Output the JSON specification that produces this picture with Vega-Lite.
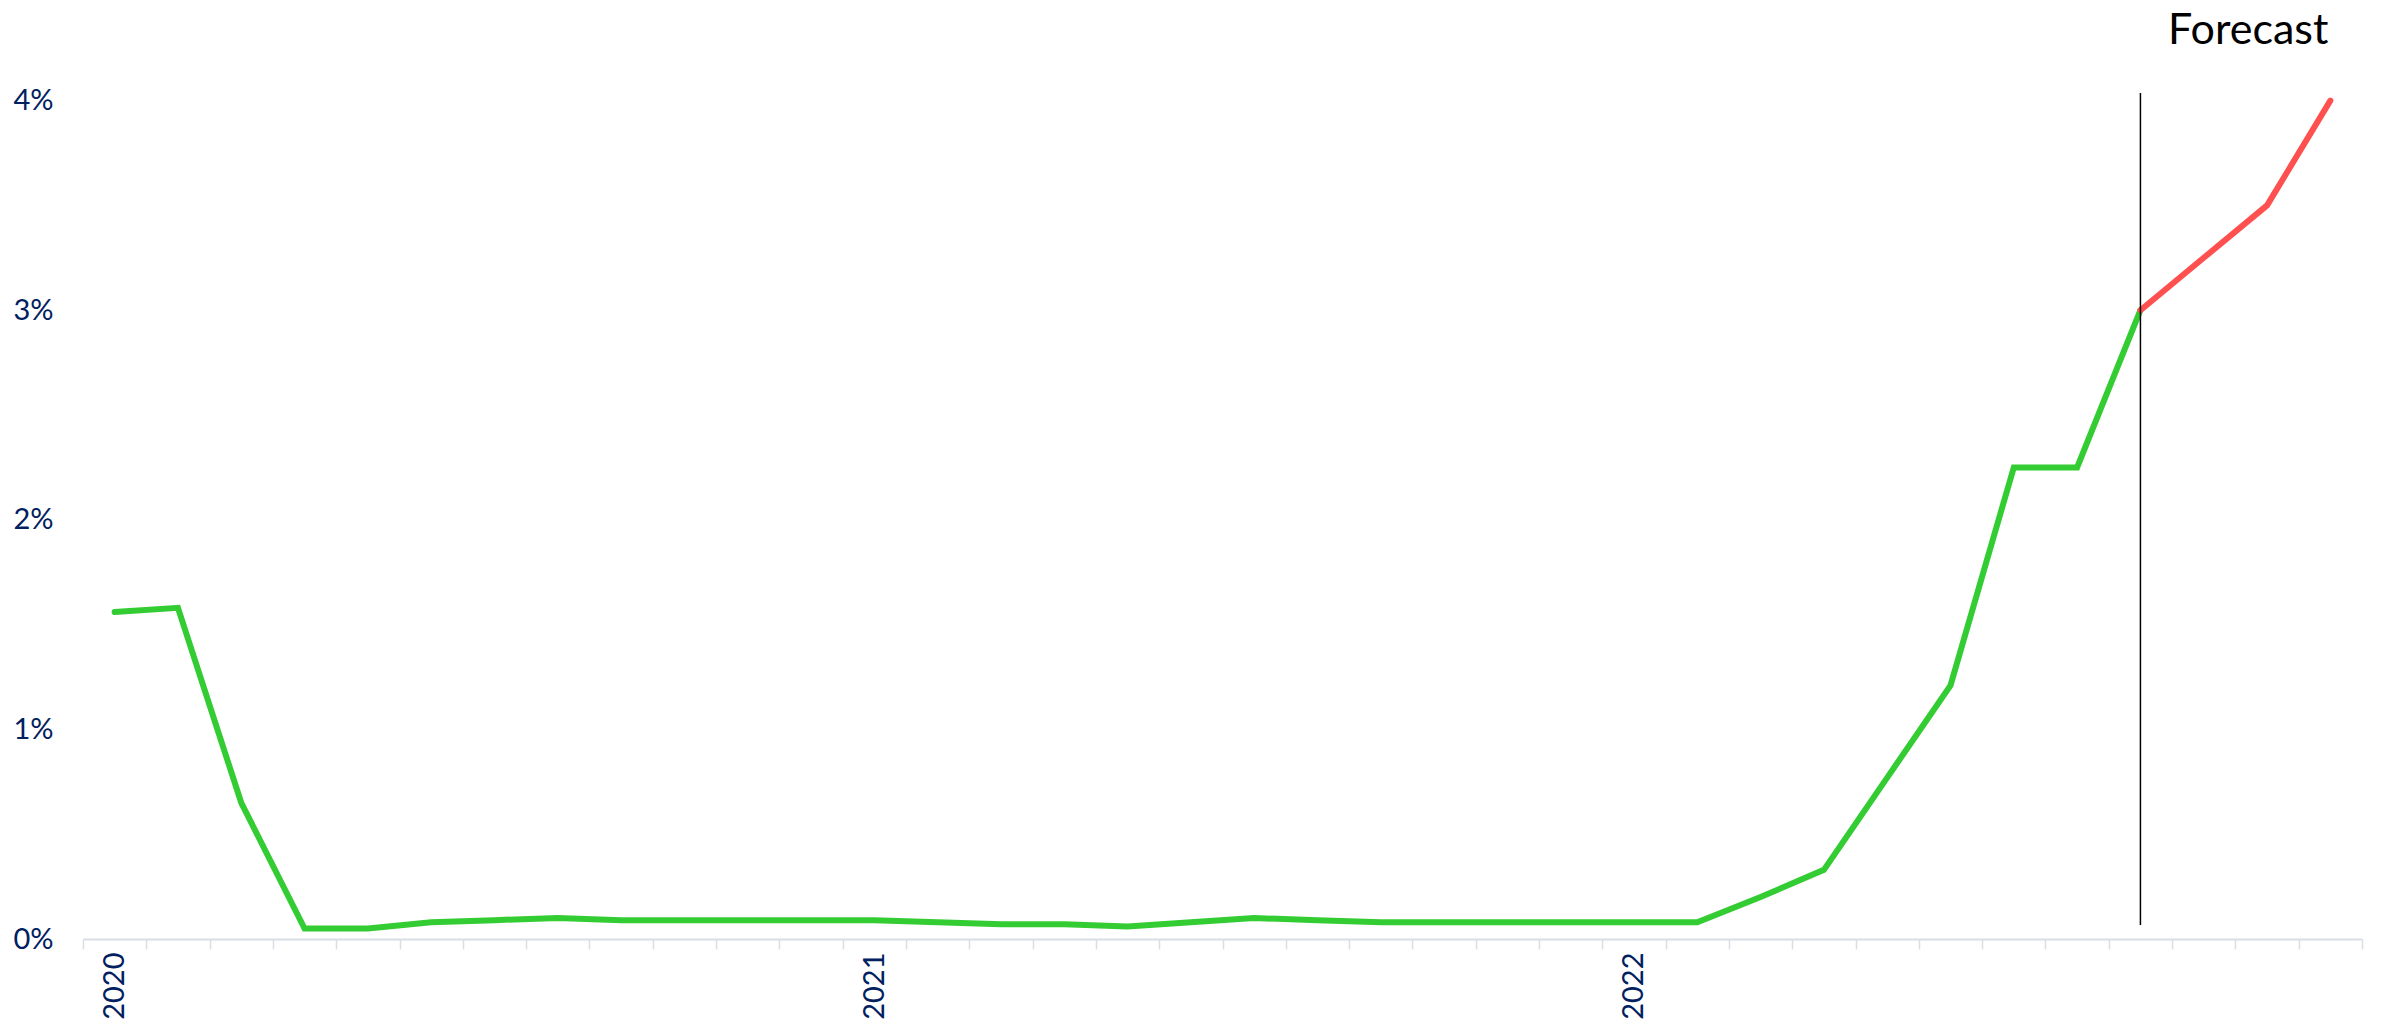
{
  "$schema": "https://vega.github.io/schema/vega-lite/v6.json",
  "autosize": {"type": "none"},
  "padding": {"left": 83, "top": 0, "right": 20, "bottom": 91},
  "width": 2279,
  "height": 939,
  "background": "white",
  "config": {"view": {"stroke": null}},
  "layer": [
    {
      "data": {"values": [
        {"month": "2020-01", "value": 1.56, "series": "Actual"},
        {"month": "2020-02", "value": 1.58, "series": "Actual"},
        {"month": "2020-03", "value": 0.65, "series": "Actual"},
        {"month": "2020-04", "value": 0.05, "series": "Actual"},
        {"month": "2020-05", "value": 0.05, "series": "Actual"},
        {"month": "2020-06", "value": 0.08, "series": "Actual"},
        {"month": "2020-07", "value": 0.09, "series": "Actual"},
        {"month": "2020-08", "value": 0.10, "series": "Actual"},
        {"month": "2020-09", "value": 0.09, "series": "Actual"},
        {"month": "2020-10", "value": 0.09, "series": "Actual"},
        {"month": "2020-11", "value": 0.09, "series": "Actual"},
        {"month": "2020-12", "value": 0.09, "series": "Actual"},
        {"month": "2021-01", "value": 0.09, "series": "Actual"},
        {"month": "2021-02", "value": 0.08, "series": "Actual"},
        {"month": "2021-03", "value": 0.07, "series": "Actual"},
        {"month": "2021-04", "value": 0.07, "series": "Actual"},
        {"month": "2021-05", "value": 0.06, "series": "Actual"},
        {"month": "2021-06", "value": 0.08, "series": "Actual"},
        {"month": "2021-07", "value": 0.10, "series": "Actual"},
        {"month": "2021-08", "value": 0.09, "series": "Actual"},
        {"month": "2021-09", "value": 0.08, "series": "Actual"},
        {"month": "2021-10", "value": 0.08, "series": "Actual"},
        {"month": "2021-11", "value": 0.08, "series": "Actual"},
        {"month": "2021-12", "value": 0.08, "series": "Actual"},
        {"month": "2022-01", "value": 0.08, "series": "Actual"},
        {"month": "2022-02", "value": 0.08, "series": "Actual"},
        {"month": "2022-03", "value": 0.20, "series": "Actual"},
        {"month": "2022-04", "value": 0.33, "series": "Actual"},
        {"month": "2022-05", "value": 0.77, "series": "Actual"},
        {"month": "2022-06", "value": 1.21, "series": "Actual"},
        {"month": "2022-07", "value": 2.25, "series": "Actual"},
        {"month": "2022-08", "value": 2.25, "series": "Actual"},
        {"month": "2022-09", "value": 3.00, "series": "Actual"},
        {"month": "2022-09", "value": 3.00, "series": "Forecast"},
        {"month": "2022-10", "value": 3.25, "series": "Forecast"},
        {"month": "2022-11", "value": 3.50, "series": "Forecast"},
        {"month": "2022-12", "value": 4.00, "series": "Forecast"}
      ]},
      "mark": {"type": "line", "strokeWidth": 6, "strokeCap": "round"},
      "encoding": {
        "x": {
          "field": "month",
          "type": "ordinal",
          "scale": {"type": "band", "paddingInner": 0, "paddingOuter": 0},
          "axis": {
            "title": null,
            "orient": "bottom",
            "tickBand": "extent",
            "domainColor": "#D9DDE6",
            "domainWidth": 2,
            "tickColor": "#D9DDE6",
            "tickWidth": 1.5,
            "tickSize": 10,
            "labelAngle": -90,
            "labelAlign": "right",
            "labelBaseline": "middle",
            "labelPadding": 3,
            "labelFont": "Lato",
            "labelFontSize": 29,
            "labelColor": "#002060",
            "labelOverlap": false,
            "labelBound": false,
            "labelExpr": "substring(datum.value, 5, 7) == '01' ? substring(datum.value, 0, 4) : ''",
            "grid": false
          }
        },
        "y": {
          "field": "value",
          "type": "quantitative",
          "scale": {"domain": [0, 4.48], "nice": false},
          "axis": {
            "title": null,
            "values": [0, 1, 2, 3, 4],
            "labelExpr": "datum.value + '%'",
            "ticks": false,
            "domain": false,
            "grid": false,
            "labelPadding": 30,
            "labelFont": "Lato",
            "labelFontSize": 29,
            "labelColor": "#002060"
          }
        },
        "color": {
          "field": "series",
          "type": "nominal",
          "scale": {"domain": ["Actual", "Forecast"], "range": ["#33CC33", "#FF5050"]},
          "legend": null
        }
      }
    },
    {
      "data": {"values": [
        {"month": "2022-09", "lo": 0.067, "hi": 4.036}
      ]},
      "mark": {"type": "rule", "color": "#000000", "strokeWidth": 1.5},
      "encoding": {
        "x": {"field": "month", "type": "ordinal"},
        "y": {"field": "lo", "type": "quantitative"},
        "y2": {"field": "hi"}
      }
    },
    {
      "data": {"values": [
        {"month": "2022-12", "pos": 4.27, "label": "Forecast"}
      ]},
      "mark": {"type": "text", "align": "right", "baseline": "alphabetic", "dx": -2, "font": "Lato", "fontSize": 43, "color": "#000000"},
      "encoding": {
        "x": {"field": "month", "type": "ordinal"},
        "y": {"field": "pos", "type": "quantitative"},
        "text": {"field": "label"}
      }
    }
  ]
}
